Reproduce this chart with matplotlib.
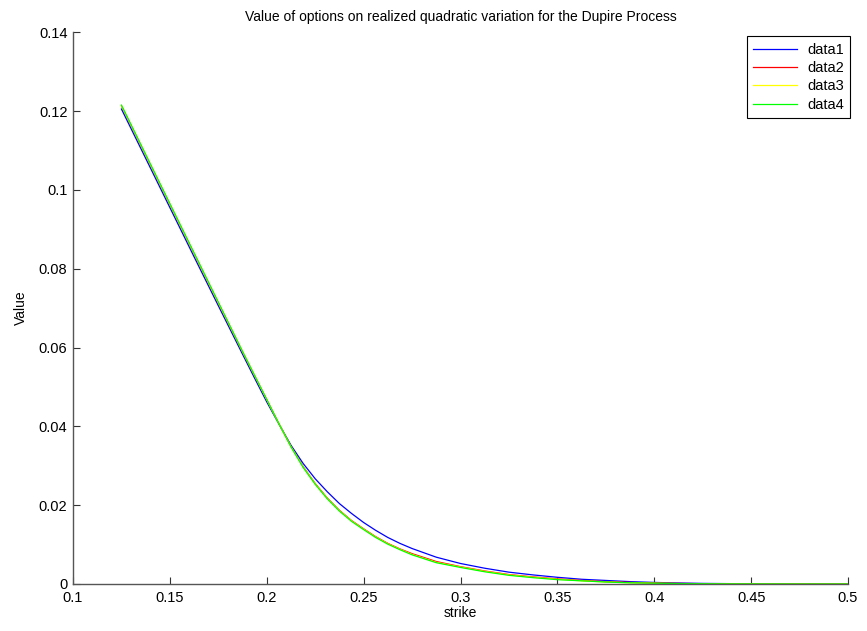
import matplotlib
matplotlib.use("Agg")
import matplotlib.pyplot as plt

plt.rcParams['font.family'] = ['Liberation Sans', 'DejaVu Sans']

strike = [0.125, 0.1375, 0.15, 0.1625, 0.175, 0.1875, 0.19375, 0.2, 0.20625, 0.2125,
          0.21875, 0.225, 0.23125, 0.2375, 0.24375, 0.25, 0.25625, 0.2625, 0.26875, 0.275,
          0.2875, 0.3, 0.3125, 0.325, 0.3375, 0.35, 0.3625, 0.375, 0.3875, 0.4,
          0.4125, 0.425, 0.4375, 0.45, 0.4625, 0.475, 0.4875, 0.5]

data1 = [0.1205, 0.1080, 0.0955, 0.0830, 0.0706, 0.0583, 0.0522, 0.0462, 0.0406, 0.0352,
         0.0306, 0.0267, 0.0234, 0.0204, 0.0179, 0.0156, 0.0136, 0.0118, 0.0103, 0.0090,
         0.0068, 0.0052, 0.0040, 0.0030, 0.0023, 0.0017, 0.0012, 0.0009, 0.0006, 0.0004,
         0.00025, 0.00015, 0.0001, 0.00005, 0.00003, 0.00002, 0.00001, 0.00001]
data2 = [0.1213, 0.1088, 0.0963, 0.0838, 0.0713, 0.0589, 0.0528, 0.0468, 0.0407, 0.0349,
         0.0298, 0.0255, 0.0218, 0.0187, 0.0161, 0.0140, 0.0120, 0.0103, 0.0089, 0.0077,
         0.0057, 0.0044, 0.0033, 0.0024, 0.0018, 0.0013, 0.0009, 0.0006, 0.0004, 0.00025,
         0.00015, 0.00008, 0.00004, 0.00002, 0.00001, 0.00001, 0.0, 0.0]
data3 = [0.1214, 0.1089, 0.0964, 0.0839, 0.0714, 0.0590, 0.0529, 0.0468, 0.0407, 0.0348,
         0.0297, 0.0254, 0.0217, 0.0186, 0.0160, 0.0139, 0.0119, 0.0102, 0.0088, 0.0075,
         0.0055, 0.0043, 0.0032, 0.0023, 0.0017, 0.0012, 0.0008, 0.0005, 0.0003, 0.0002,
         0.0001, 0.00006, 0.00003, 0.00002, 0.00001, 0.0, 0.0, 0.0]
data4 = [0.1215, 0.1090, 0.0965, 0.0840, 0.0715, 0.0590, 0.0529, 0.0468, 0.0407, 0.0348,
         0.0296, 0.0253, 0.0216, 0.0185, 0.0159, 0.0138, 0.0118, 0.0101, 0.0087, 0.0074,
         0.0054, 0.0042, 0.0031, 0.0022, 0.0016, 0.0011, 0.0008, 0.0005, 0.0003, 0.0002,
         0.0001, 0.00006, 0.00003, 0.00002, 0.00001, 0.0, 0.0, 0.0]

series = [("data1", data1, "#0000ff"), ("data2", data2, "#ff0000"),
          ("data3", data3, "#ffff00"), ("data4", data4, "#00ff00")]

fig = plt.figure(figsize=(8.67, 6.31), dpi=100)
ax = fig.add_axes([0.0842, 0.0745, 0.8939, 0.8745])

for name, vals, col in series:
    ax.plot(strike, vals, color=col, lw=0.9, label=name)

ax.set_xlim(0.1, 0.5)
ax.set_ylim(0, 0.14)
ax.set_xticks([0.1, 0.15, 0.2, 0.25, 0.3, 0.35, 0.4, 0.45, 0.5])
ax.set_xticklabels(["0.1", "0.15", "0.2", "0.25", "0.3", "0.35", "0.4", "0.45", "0.5"])
ax.set_yticks([0, 0.02, 0.04, 0.06, 0.08, 0.1, 0.12, 0.14])
ax.set_yticklabels(["0", "0.02", "0.04", "0.06", "0.08", "0.1", "0.12", "0.14"])
ax.spines['top'].set_visible(False)
ax.spines['right'].set_visible(False)
for s in ['left', 'bottom']:
    ax.spines[s].set_linewidth(1.0)
    ax.spines[s].set_color('#555555')
ax.tick_params(direction='in', length=5, width=0.8, labelsize=10.5, color='#333333')
ax.tick_params(axis='x', pad=5)
ax.tick_params(axis='y', pad=4)

ax.set_xlabel("strike", fontsize=10, labelpad=1)
ax.set_ylabel("Value", fontsize=10, labelpad=8)
ax.set_title("Value of options on realized quadratic variation for the Dupire Process",
             fontsize=10, pad=8)

leg = ax.legend(loc='upper right', bbox_to_anchor=(1.003, 0.993), fontsize=10.5,
                fancybox=False, edgecolor='black', framealpha=1, borderpad=0.45,
                handlelength=3.0, handletextpad=0.7, labelspacing=0.3, borderaxespad=0)
leg.get_frame().set_linewidth(0.8)

fig.savefig("out.png", dpi=100)
